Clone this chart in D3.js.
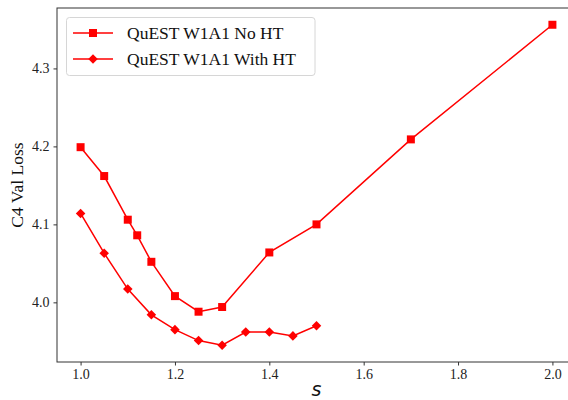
<!DOCTYPE html>
<html>
<head>
<meta charset="utf-8">
<script src="https://cdn.jsdelivr.net/npm/d3@7"></script>
<style>
  html, body { margin: 0; padding: 0; background: #fff; }
  svg { display: block; }
</style>
</head>
<body>
<svg id="chart" width="568" height="400"></svg>
<script>
// Validation loss versus s for the two QuEST W1A1 variants
const sNoHT = [1.0, 1.05, 1.1, 1.12, 1.15, 1.2, 1.25, 1.3, 1.4, 1.5, 1.7, 2.0];
const lossNoHT = [4.199, 4.162, 4.106, 4.086, 4.052, 4.008, 3.988, 3.994, 4.064, 4.100, 4.209, 4.356];
const sWithHT = [1.0, 1.05, 1.1, 1.15, 1.2, 1.25, 1.3, 1.35, 1.4, 1.45, 1.5];
const lossWithHT = [4.114, 4.063, 4.017, 3.984, 3.965, 3.951, 3.945, 3.962, 3.962, 3.957, 3.970];
const seriesNames = ["QuEST W1A1 No HT", "QuEST W1A1 With HT"];
const xTicks = [1.0, 1.2, 1.4, 1.6, 1.8, 2.0];
const yTicks = [4.0, 4.1, 4.2, 4.3];

(function () {
const svg = d3.select("#chart");
const pLeft = 57, pRight = 576, pTop = 8, pBottom = 362;
const red = "#ff0000";
const serif = "'Liberation Serif', 'Times New Roman', serif";

const x = d3.scaleLinear().domain([0.95, 2.05]).range([pLeft, pRight]);
const y = d3.scaleLinear().domain([3.9235, 4.3775]).range([pBottom, pTop]);

// Frame
svg.append("rect")
  .attr("x", pLeft).attr("y", pTop)
  .attr("width", pRight - pLeft).attr("height", pBottom - pTop)
  .attr("fill", "none").attr("stroke", "#333").attr("stroke-width", 1);

// Axes
const xAxis = svg.append("g")
  .attr("transform", `translate(0,${pBottom})`)
  .call(d3.axisBottom(x).tickValues(xTicks).tickFormat(d3.format(".1f")).tickSize(3.5).tickPadding(4));
const yAxis = svg.append("g")
  .attr("transform", `translate(${pLeft},0)`)
  .call(d3.axisLeft(y).tickValues(yTicks).tickFormat(d3.format(".1f")).tickSize(3.5).tickPadding(4));
[xAxis, yAxis].forEach(g => {
  g.attr("font-family", null).attr("font-size", null);
  g.select(".domain").remove();
  g.selectAll(".tick line").attr("stroke", "#333").attr("stroke-width", 1);
  g.selectAll(".tick text").attr("fill", "#222")
    .style("font-family", serif).style("font-size", "14px");
});

// Axis titles
svg.append("text")
  .attr("transform", `translate(23,${(pTop + pBottom) / 2}) rotate(-90)`)
  .attr("text-anchor", "middle")
  .style("font-family", serif).style("font-size", "17.5px").attr("fill", "#111")
  .text("C4 Val Loss");
svg.append("text")
  .attr("x", (pLeft + pRight) / 2).attr("y", 396)
  .attr("text-anchor", "middle")
  .style("font-family", "'DejaVu Sans', sans-serif").style("font-style", "italic")
  .style("font-size", "19px").attr("fill", "#111")
  .text("s");

const line = d3.line().x(d => x(d[0])).y(d => y(d[1]));
const noHT = sNoHT.map((s, i) => [s, lossNoHT[i]]);
const withHT = sWithHT.map((s, i) => [s, lossWithHT[i]]);

const plot = svg.append("g");
plot.append("path").datum(noHT).attr("d", line)
  .attr("fill", "none").attr("stroke", red).attr("stroke-width", 1.5);
plot.append("path").datum(withHT).attr("d", line)
  .attr("fill", "none").attr("stroke", red).attr("stroke-width", 1.5);

const square = d3.symbol().type(d3.symbolSquare).size(64);
const diamond = d3.symbol().type(d3.symbolDiamond2).size(58);

plot.selectAll(".sq").data(noHT).join("path")
  .attr("transform", d => `translate(${x(d[0])},${y(d[1])})`)
  .attr("d", square).attr("fill", red);
plot.selectAll(".dm").data(withHT).join("path")
  .attr("transform", d => `translate(${x(d[0])},${y(d[1])})`)
  .attr("d", diamond).attr("fill", red);

// Legend
const legend = svg.append("g");
legend.append("rect")
  .attr("x", 66.5).attr("y", 17.5).attr("width", 248.5).attr("height", 58)
  .attr("rx", 3).attr("fill", "#fff").attr("stroke", "#d6d6d6").attr("stroke-width", 1);
const rows = [{name: seriesNames[0], sym: square, cy: 33}, {name: seriesNames[1], sym: diamond, cy: 59}];
rows.forEach(r => {
  legend.append("line").attr("x1", 73).attr("x2", 113).attr("y1", r.cy).attr("y2", r.cy)
    .attr("stroke", red).attr("stroke-width", 1.5);
  legend.append("path").attr("transform", `translate(93,${r.cy})`).attr("d", r.sym).attr("fill", red);
  legend.append("text").attr("x", 127).attr("y", r.cy + 6)
    .style("font-family", serif).style("font-size", "17.5px").attr("fill", "#111")
    .text(r.name);
});
})();
</script>
</body>
</html>
